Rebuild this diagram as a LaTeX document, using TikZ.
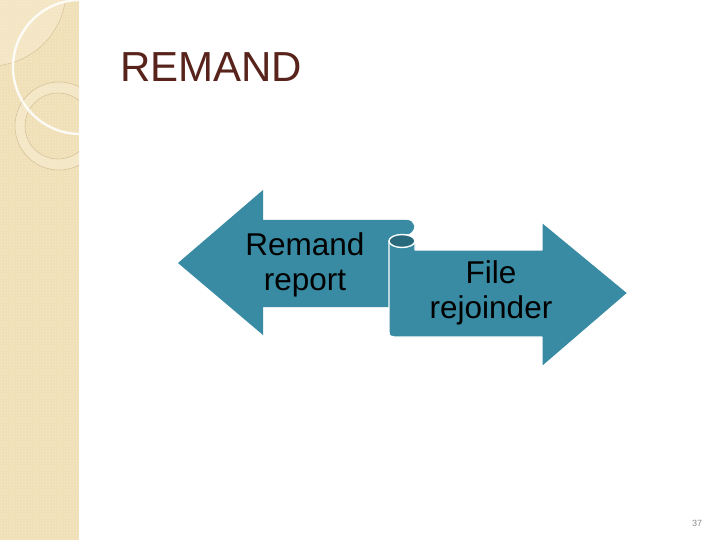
\documentclass[tikz,border=0pt]{standalone}
\usepackage{fontspec}
\setmainfont{Liberation Sans}
\usetikzlibrary{patterns}

\definecolor{strip}{HTML}{F0DFB6}
\definecolor{stripdot}{HTML}{F8EDD2}
\definecolor{stripring}{HTML}{D8C399}
\definecolor{titlebrown}{HTML}{58231A}
\definecolor{arrowteal}{HTML}{388BA3}
\definecolor{scrolldark}{HTML}{28697B}

\begin{document}
\begin{tikzpicture}[x=1pt, y=-1pt,
  shaft/.style={fill=arrowteal},
  rim/.style={draw=white, line width=1.4pt, line join=round},
  label/.style={font=\fontsize{31.5}{35}\selectfont, align=center, inner sep=0pt},
  title/.style={font=\fontsize{42}{48}\selectfont, text=titlebrown, inner sep=0pt}]
\useasboundingbox[fill=white] (0,0) rectangle (720,540);

% left strip with its rings
\begin{scope}
  \clip (0,0) rectangle (79,540);
  \fill[strip] (0,0) rectangle (79,540);
  \fill[pattern=crosshatch dots, pattern color=stripdot] (0,0) rectangle (79,540);
  \fill[stripdot, opacity=0.5] (-10,-10) circle[radius=76];
  \draw[stripring, line width=0.5pt] (-10,-10) circle[radius=76];
  \fill[even odd rule, fill=stripdot, opacity=0.6]
    (59,126) circle[radius=44] (58,126) circle[radius=33];
  \draw[stripring, line width=0.6pt] (59,126) circle[radius=44];
  \draw[stripring, line width=0.6pt] (58,126) circle[radius=33];
  \draw[white, opacity=0.85, line width=2.4pt] (80,67) circle[radius=67];
\end{scope}

\node[title, anchor=base west] (ttl) at (120,82) {REMAND};

% arrow pointing back
\path[shaft] (178,263) -- (263,190) -- (263,220) -- (407,220)
  .. controls (415,220) and (417,230) .. (409,234)
  -- (396,236) -- (396,307) -- (263,307) -- (263,335) -- cycle;

% arrow pointing on, rolled at its tail
\path[shaft, rim] (389,241) -- (389,331)
  .. controls (389,336) .. (394,337) -- (542,337) -- (542,367)
  -- (628,293) -- (542,222) -- (542,250) -- (415,250) -- (415,241) -- cycle;
\path[fill=scrolldark, rim] (402,241) ellipse[x radius=13, y radius=6.5];

\node[label] (rr) at (305,265) {Remand\\report};
\node[label] (fr) at (491,293) {File\\rejoinder};

\node[font=\fontsize{9}{10}\selectfont, text=black!45, inner sep=0pt] (pg) at (697,523) {37};
\end{tikzpicture}
\end{document}
